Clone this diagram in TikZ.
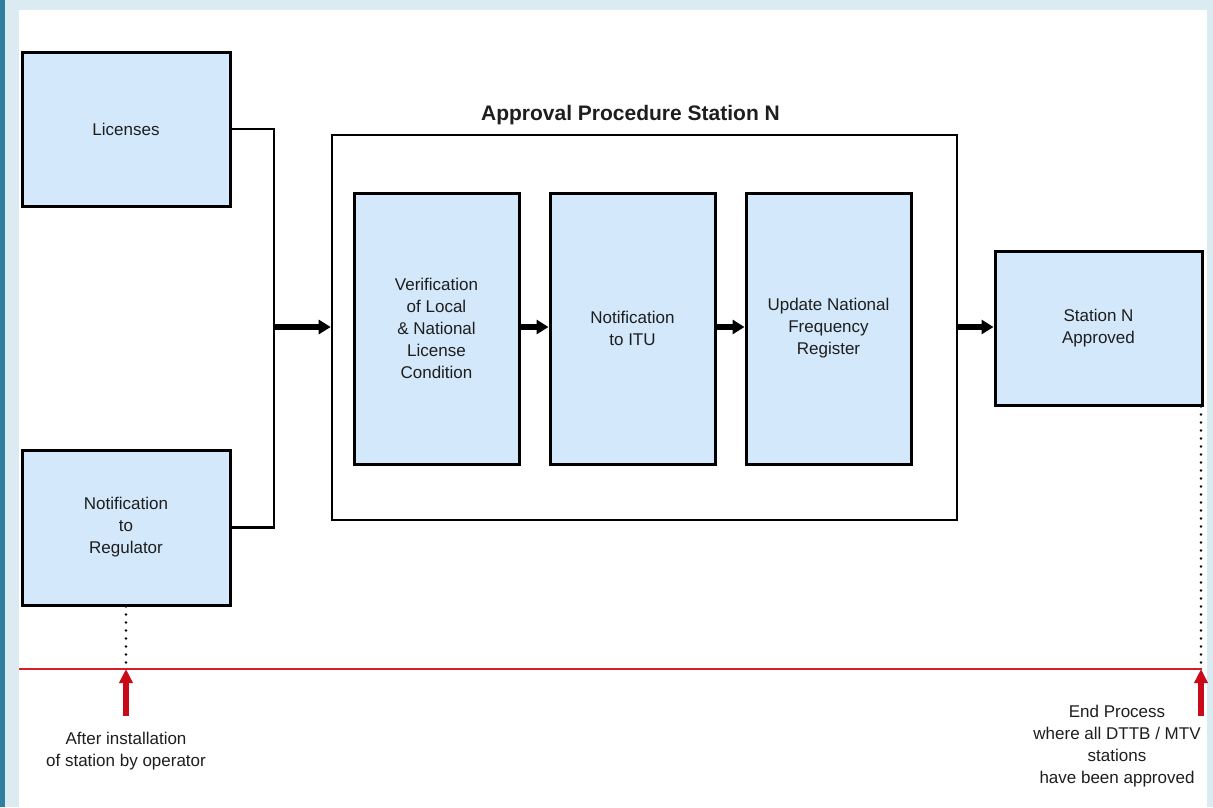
\documentclass[tikz,border=0pt]{standalone}
\usepackage{fontspec}
\setmainfont{Liberation Sans}
\usetikzlibrary{arrows.meta}
\definecolor{bgblue}{RGB}{218,236,242}
\definecolor{stripblue}{RGB}{46,128,158}
\definecolor{boxfill}{RGB}{211,232,250}
\definecolor{redline}{RGB}{214,30,40}
\definecolor{redarrow}{RGB}{200,10,25}
\definecolor{txt}{RGB}{30,30,30}
\begin{document}
\begin{tikzpicture}[x=1pt,y=-1pt,
  box/.style={draw=black, line width=3pt, fill=boxfill, align=center, inner sep=2pt,
    text=txt, font=\fontsize{17}{22}\selectfont},
  frame/.style={draw=black, line width=2.6pt, fill=white},
  conn/.style={draw=black, line width=2.4pt},
  bigarrow/.style={draw=black, line width=5.5pt, -{Triangle[length=12pt,width=14pt]}},
  redarr/.style={draw=redarrow, line width=5.5pt, -{Triangle[length=14pt,width=13pt]}},
  dotline/.style={draw=black, line width=2.8pt, line cap=round, dash pattern=on 0pt off 8pt},
  lbl/.style={align=center, text=txt, font=\fontsize{17}{22}\selectfont, inner sep=0pt}
]
\useasboundingbox (0,0) rectangle (1213,807);
\fill[bgblue] (0,0) rectangle (1213,807);
\fill[stripblue] (0,0) rectangle (4.5,807);
\fill[white] (19,10) rectangle (1207,807);

\node[box, minimum width=208pt, minimum height=154pt] (lic) at (126,129) {Licenses};
\node[box, minimum width=208pt, minimum height=155pt] (reg) at (126,527.5) {Notification\\to\\Regulator};
\node[frame, minimum width=625pt, minimum height=385pt] (frm) at (644.5,327.5) {};
\node[font=\bfseries\fontsize{21}{25}\selectfont, text=txt, inner sep=0pt] (title) at (630.5,115) {Approval Procedure Station N};
\node[box, minimum width=165pt, minimum height=271pt] (ver) at (436.5,328.5) {Verification\\of Local\\\& National\\License\\Condition};
\node[box, minimum width=165pt, minimum height=271pt] (itu) at (632.5,328.5) {Notification\\to ITU};
\node[box, minimum width=165pt, minimum height=271pt] (upd) at (828.5,328.5) {Update National\\Frequency\\Register};
\node[box, minimum width=207pt, minimum height=154pt] (sta) at (1098.5,328) {Station N\\Approved};

\coordinate (j) at (274,327);
\draw[conn] (lic.east) -| (j) -- (j |- reg.east) -- (reg.east);
\draw[bigarrow] (j) -- (j -| frm.west);
\draw[bigarrow] (ver.east |- 0,327) -- (itu.west |- 0,327);
\draw[bigarrow] (itu.east |- 0,327) -- (upd.west |- 0,327);
\draw[bigarrow] (frm.east |- 0,327) -- (sta.west |- 0,327);

\coordinate (rl) at (19,669);
\coordinate (rr) at (1202,669);
\draw[draw=redline, line width=2.4pt] (rl) -- (rr);

\coordinate (a1) at (126,669);
\coordinate (a1b) at (126,716);
\coordinate (a2) at (1201,669);
\coordinate (a2b) at (1201,716);
\draw[dotline] (reg.south) -- (a1);
\draw[dotline] (sta.south -| a2) -- (a2);
\draw[redarr] (a1b) -- (a1);
\draw[redarr] (a2b) -- (a2);

\node[lbl] (t1) at (126,751.5) {After installation\\of station by operator};
\node[lbl] (t2) at (1117,746) {End Process\\where all DTTB / MTV\\stations\\have been approved};
\end{tikzpicture}
\end{document}
